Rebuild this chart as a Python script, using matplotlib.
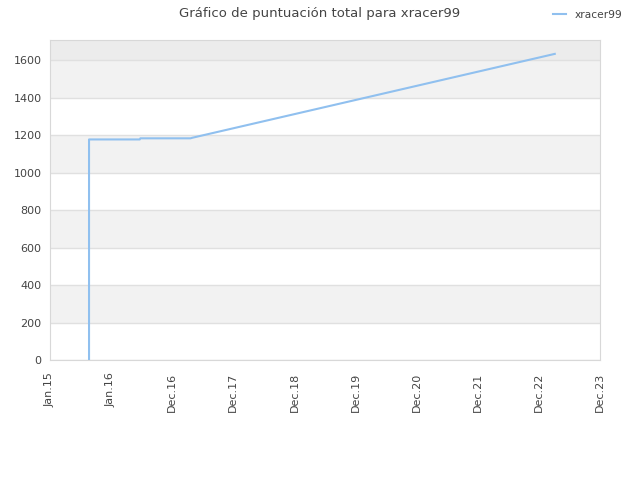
import matplotlib
matplotlib.use("Agg")
import matplotlib.pyplot as plt

# datos (x en unidades de tick: 0 = Jan.15, 9 = Dec.23)
tick_labels = ["Jan.15", "Jan.16", "Dec.16", "Dec.17", "Dec.18",
               "Dec.19", "Dec.20", "Dec.21", "Dec.22", "Dec.23"]
x_vals = [0.64, 0.64, 0.64, 0.64, 0.64, 1.47, 1.48, 2.30, 2.33, 8.26]
y_vals = [0, 410, 970, 1040, 1178, 1178, 1184, 1184, 1187, 1635]
player = "xracer99"

line_color = "#90c0ef"
text_color = "#444444"
grid_color = "#e0e0e0"
border_color = "#d8d8d8"

fig = plt.figure(figsize=(6.4, 4.8), dpi=100)
ax = fig.add_axes([0.078, 0.25, 0.8595, 0.667])

ymax = 1710
ax.set_xlim(0, 9)
ax.set_ylim(0, ymax)

# bandas alternas de fondo
for lo in range(200, 1600, 400):
    ax.axhspan(lo, lo + 200, color="#f2f2f2", zorder=0, lw=0)
ax.axhspan(1600, ymax, color="#ececec", zorder=0, lw=0)

ax.set_yticks(range(0, 1601, 200))
ax.yaxis.grid(True, color=grid_color, linewidth=1)
ax.set_axisbelow(True)

ax.set_xticks(range(len(tick_labels)))
ax.set_xticklabels(tick_labels, rotation=90)
ax.tick_params(colors=text_color, labelsize=8, length=0, pad=6)
ax.tick_params(axis="x", pad=9)

for s in ax.spines.values():
    s.set_color(border_color)

ax.plot(x_vals, y_vals, color=line_color, linewidth=1.5, label=player)

fig.text(0.5, 0.972, "Gráfico de puntuación total para " + player,
         ha="center", va="center", color=text_color, fontsize=9.5)
fig.legend(loc="upper right", bbox_to_anchor=(0.987, 1.0), frameon=False,
           fontsize=7.7, handlelength=1.2, labelcolor=text_color)

plt.savefig("out.png", dpi=100)
